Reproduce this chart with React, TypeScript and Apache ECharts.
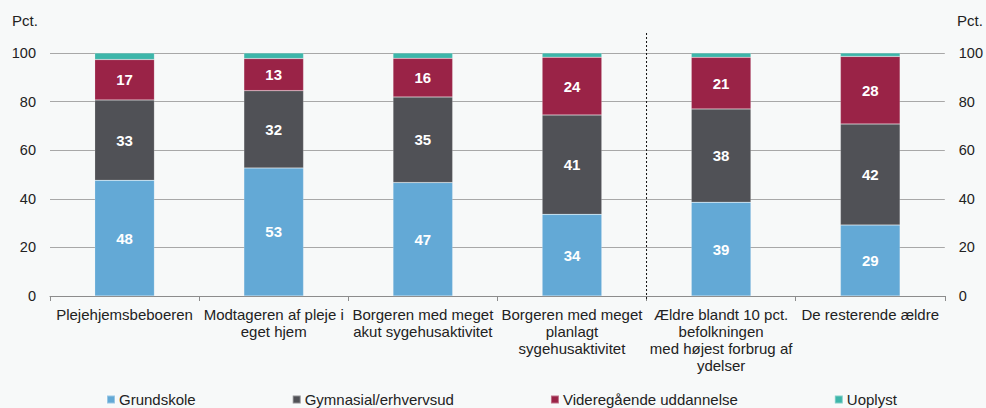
import React, { useEffect, useRef } from "react";
import * as echarts from "echarts";

const categories = [
  "Plejehjemsbeboeren",
  "Modtageren af pleje i\neget hjem",
  "Borgeren med meget\nakut sygehusaktivitet",
  "Borgeren med meget\nplanlagt\nsygehusaktivitet",
  "Ældre blandt 10 pct.\nbefolkningen\nmed højest forbrug af\nydelser",
  "De resterende ældre",
];
const grundskole = [47.6, 52.7, 46.7, 33.6, 38.6, 29.2];
const gymnasial = [33.1, 31.8, 35.2, 40.9, 38.4, 41.6];
const videregaaende = [16.6, 13.2, 15.9, 23.8, 21.2, 27.8];
const uoplyst = [2.7, 2.3, 2.2, 1.7, 1.8, 1.4];
const seriesNames = ["Grundskole", "Gymnasial/erhvervsud", "Videregående uddannelse", "Uoplyst"];
const colors = ["#63a9d6", "#505156", "#9a2347", "#3db6aa"];
const yTicks = [0, 20, 40, 60, 80, 100];

export default function App() {
  const ref = useRef<HTMLDivElement>(null);
  useEffect(() => {
    document.body.style.margin = "0";
    const chart = echarts.init(ref.current!, null, { renderer: "svg" });
    const font = "'Liberation Sans', Arial, sans-serif";
    const data = [grundskole, gymnasial, videregaaende, uoplyst];
    const yAxisBase = {
      type: "value" as const,
      min: yTicks[0],
      max: yTicks[yTicks.length - 1],
      interval: 20,
      axisLine: { show: false },
      axisTick: { show: false },
      axisLabel: { color: "#222", fontSize: 14.5, fontFamily: font, margin: 14 },
    };
    chart.setOption({
      animation: false,
      backgroundColor: "#f7f9f9",
      textStyle: { fontFamily: font },
      grid: { left: 50, right: 40, top: 53, bottom: 112 },
      legend: {
        bottom: -4,
        left: 101,
        itemWidth: 8,
        itemHeight: 8,
        itemGap: 96,
        icon: "rect",
        textStyle: { color: "#222", fontSize: 15, fontFamily: font, padding: [0, 0, 0, -1] },
        data: seriesNames,
      },
      xAxis: {
        type: "category",
        data: categories,
        axisLine: { lineStyle: { color: "#8c8c8c", width: 1 } },
        axisTick: { show: true, lineStyle: { color: "#8c8c8c" }, length: 5 },
        axisLabel: { color: "#222", fontSize: 15, fontFamily: font, lineHeight: 17, margin: 10, interval: 0 },
      },
      yAxis: [
        {
          ...yAxisBase,
          position: "left",
          splitLine: { show: true, lineStyle: { color: "#a8a8a8", width: 1 } },
        },
        {
          ...yAxisBase,
          position: "right",
          splitLine: { show: false },
        },
      ],
      series: seriesNames.map((name, i) => ({
        name,
        type: "bar",
        stack: "total",
        barWidth: "40%",
        data: data[i],
        itemStyle: { color: colors[i], borderColor: "rgba(255,255,255,0.35)", borderWidth: 0.5 },
        label: {
          show: i < 3,
          position: "inside",
          color: "#fff",
          fontWeight: "bold",
          fontSize: 15,
          fontFamily: font,
          formatter: (p: any) => String(Math.round(p.value)),
        },
      })),
    });
    const p3 = chart.convertToPixel({ xAxisIndex: 0 }, 3) as number;
    const p4 = chart.convertToPixel({ xAxisIndex: 0 }, 4) as number;
    const xSep = (p3 + p4) / 2;
    chart.setOption({
      graphic: [
        { type: "text", left: 12, top: 13, style: { text: "Pct.", fontSize: 15, fill: "#222", fontFamily: font } },
        { type: "text", left: 957, top: 13, style: { text: "Pct.", fontSize: 15, fill: "#222", fontFamily: font } },
        {
          type: "line",
          shape: { x1: xSep, y1: 33, x2: xSep, y2: 301 },
          style: { stroke: "#111", lineWidth: 1, lineDash: [2, 2] },
          z: 10,
        },
      ],
    });
    return () => chart.dispose();
  }, []);
  return <div ref={ref} style={{ position: "absolute", left: 0, top: 0, width: 986, height: 408 }} />;
}
